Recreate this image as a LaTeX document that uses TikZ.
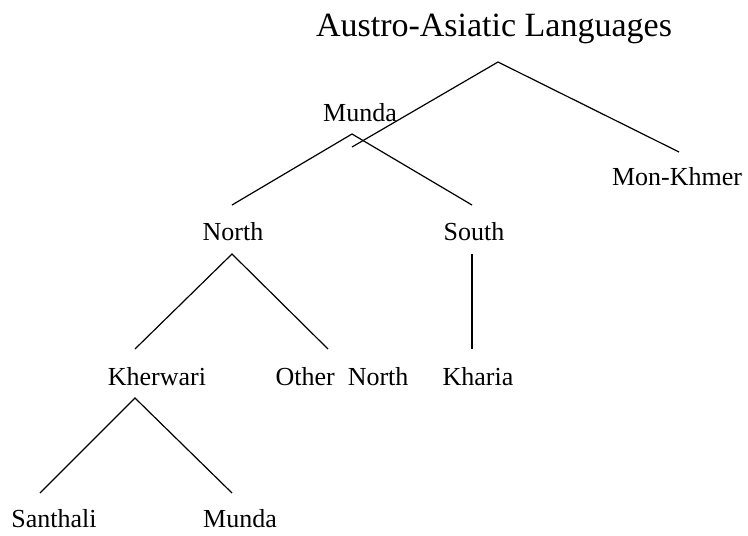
\documentclass[tikz,border=0pt]{standalone}
\usepackage{fontspec}
\setmainfont{Liberation Serif}
\begin{document}
\begin{tikzpicture}[x=1pt,y=-1pt,
  lbl/.style={anchor=base,inner sep=0pt,font=\fontsize{26}{30}\selectfont},
  ttl/.style={anchor=base,inner sep=0pt,font=\fontsize{34}{40}\selectfont},
  edge/.style={draw=black,line width=1.2pt}]
\useasboundingbox (0,0) rectangle (748,536);
% labels
\node[ttl] (root) at (494,36) {Austro-Asiatic Languages};
\node[lbl] (munda) at (360,121) {Munda};
\node[lbl] (monkhmer) at (677,185) {Mon-Khmer};
\node[lbl] (north) at (233,240) {North};
\node[lbl] (south) at (474,240) {South};
\node[lbl] (kherwari) at (157,385) {Kherwari};
\node[lbl] (othernorth) at (342,385) {Other~~North};
\node[lbl] (kharia) at (478,385) {Kharia};
\node[lbl] (santhali) at (54,527) {Santhali};
\node[lbl] (munda2) at (240,527) {Munda};
% branch points
\coordinate (pRoot) at (498,62);
\coordinate (eMunda) at (352,147);
\coordinate (eMon) at (679,152);
\coordinate (pMunda) at (352,134);
\coordinate (eNorth) at (232,205);
\coordinate (eSouth) at (472,205);
\coordinate (pNorth) at (232,254);
\coordinate (eKher) at (135,349);
\coordinate (eOther) at (328,349);
\coordinate (pSouth) at (472,254);
\coordinate (eKharia) at (472,349);
\coordinate (pKher) at (135,398);
\coordinate (eSant) at (40,493);
\coordinate (eMunda2) at (232,493);
% edges
\draw[edge] (eMunda) -- (pRoot) -- (eMon);
\draw[edge] (eNorth) -- (pMunda) -- (eSouth);
\draw[edge] (eKher) -- (pNorth) -- (eOther);
\draw[edge] (pSouth) -- (eKharia);
\draw[edge] (eSant) -- (pKher) -- (eMunda2);
\end{tikzpicture}
\end{document}
